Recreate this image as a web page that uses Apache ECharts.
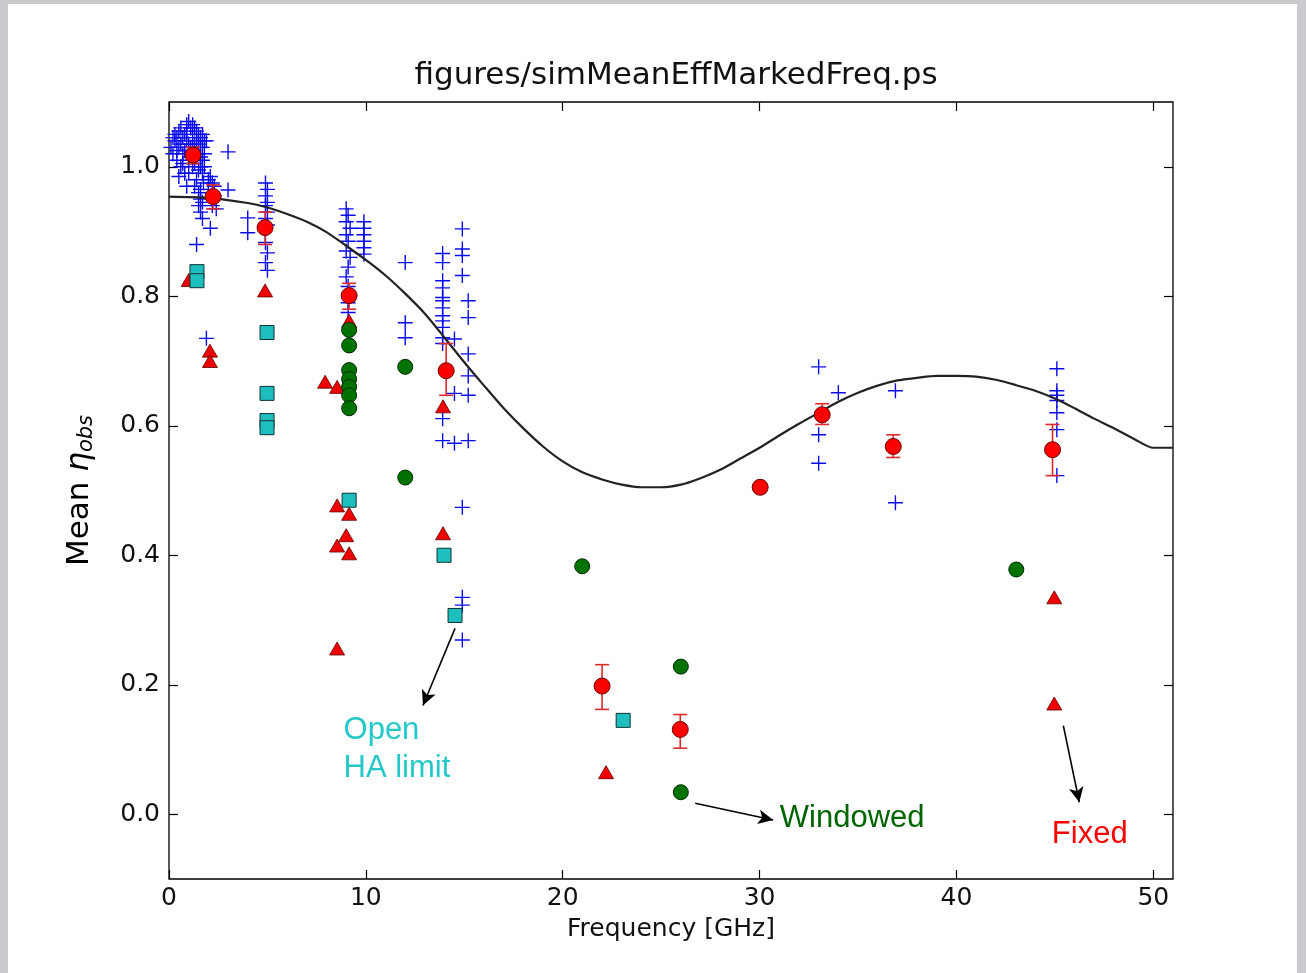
<!DOCTYPE html>
<html>
<head>
<meta charset="utf-8">
<script src="https://cdn.jsdelivr.net/npm/echarts@6/dist/echarts.min.js"></script>
<style>
html,body{margin:0;padding:0;background:#c9cbce;}
#frame{position:absolute;left:8px;top:4px;width:1289px;height:969px;background:#fff;}
#chart{position:absolute;left:0;top:0;width:1306px;height:973px;}
</style>
</head>
<body>
<div id="frame"></div>
<div id="chart"></div>
<script>
// ---- data ----
const xTicks = [0, 10, 20, 30, 40, 50];
const yTicks = [0.0, 0.2, 0.4, 0.6, 0.8, 1.0];

const curveX = [0,2,4,5,6,7,8,9,10,11,12,13,14,15,16,17,18,19,20,21,22,23,24,25,26,27,28,29,30,31,32,33,34,35,36,37,38,39,40,41,42,43,44,45,46,47,48,49,50,51];
const curveY = [0.954,0.952,0.944,0.937,0.927,0.915,0.899,0.878,0.856,0.832,0.804,0.773,0.736,0.698,0.662,0.627,0.596,0.568,0.545,0.528,0.517,0.509,0.505,0.505,0.509,0.519,0.532,0.549,0.566,0.585,0.603,0.620,0.637,0.651,0.662,0.670,0.674,0.677,0.677,0.676,0.671,0.663,0.654,0.642,0.627,0.611,0.596,0.580,0.566,0.566];

// individual measurements (blue +)
const bluePlus = [
 [0.2,1.02],[0.3,1.04],[0.3,1.05],[0.4,1.01],[0.5,1.03],[0.5,0.985],[0.6,1.00],[0.6,1.06],[0.7,1.02],[0.8,1.05],
 [0.8,0.99],[0.9,1.04],[0.9,0.97],[1.0,1.07],[1.0,1.01],[1.1,1.03],[1.1,1.06],[1.2,1.00],[1.3,1.06],[1.3,0.97],
 [1.4,1.04],[1.4,0.98],[1.5,1.05],[1.5,1.02],[1.6,1.03],[1.6,1.00],[1.7,1.05],[1.7,0.99],[1.8,1.02],[1.9,1.04],
 [0.1,1.03],[0.2,1.045],[0.4,1.025],[0.5,1.055],[0.6,1.035],[0.7,1.045],[0.7,1.005],[0.8,1.025],[0.9,1.055],[1.0,1.035],
 [1.0,0.99],[1.1,1.015],[1.2,1.045],[1.2,1.025],[1.3,1.035],[1.3,1.005],[1.4,1.055],[1.4,1.015],[1.5,1.035],[1.5,0.995],
 [1.6,1.045],[1.6,1.015],[1.7,1.03],[1.7,1.01],[1.8,1.04],[1.8,1.00],[1.2,1.065],[0.9,1.065],[0.4,1.045],[1.75,0.975],
 [1.5,0.96],[1.6,0.95],[1.5,0.94],[1.6,0.93],[1.7,0.92],[1.4,0.88],[1.9,0.735],[1.6,0.965],[1.7,0.945],
 [2.0,0.98],[2.2,0.975],[2.3,0.97],[2.0,0.96],[2.2,0.94],[2.4,0.935],[2.1,0.905],[2.1,0.985],[2.3,0.955],
 [3.0,1.023],[3.0,0.964],
 [4.0,0.921],[4.0,0.898],
 [4.9,0.975],[5.0,0.965],[4.9,0.955],[5.0,0.945],[4.9,0.94],[5.0,0.93],[4.9,0.92],[5.0,0.91],[4.9,0.883],[5.0,0.867],[4.9,0.852],[5.0,0.84],
 [9.0,0.935],[9.1,0.925],[9.0,0.915],[9.2,0.905],[9.0,0.895],[9.1,0.885],[9.0,0.87],[9.2,0.86],[9.1,0.845],[9.0,0.83],[9.1,0.815],[9.1,0.79],[9.1,0.775],
 [9.9,0.915],[9.9,0.905],[9.9,0.895],[9.9,0.885],[9.9,0.875],[9.9,0.865],
 [12.0,0.852],[12.0,0.759],[12.0,0.736],
 [13.9,0.866],[13.9,0.852],[13.9,0.824],[13.9,0.813],[13.9,0.798],[13.9,0.793],[13.9,0.782],[13.9,0.770],[13.9,0.762],[13.9,0.752],[13.9,0.736],[13.9,0.727],[13.9,0.611],[13.9,0.577],
 [14.5,0.734],[14.5,0.650],[14.5,0.573],
 [14.9,0.904],[14.9,0.873],[14.9,0.863],[14.9,0.832],
 [15.2,0.793],[15.2,0.767],[15.2,0.711],[15.2,0.677],[15.2,0.647],[15.2,0.577],
 [14.9,0.474],[14.9,0.335],[14.9,0.323],[14.9,0.269],
 [33.0,0.691],[34.0,0.651],[33.0,0.586],[33.0,0.542],
 [36.9,0.654],[36.9,0.481],
 [45.1,0.688],[45.1,0.654],[45.1,0.647],[45.1,0.639],[45.1,0.620],[45.1,0.594],[45.1,0.523]
];

// mean values with error bars (red circles): x, y, low, high
const meanX  = [1.22, 2.24, 4.88, 9.15, 14.08, 22.0, 25.97, 30.03, 33.18, 36.79, 44.88];
const meanY  = [1.018,0.954,0.906,0.801,0.685, 0.198,0.131, 0.505, 0.617, 0.568, 0.563];
const meanLo = [1.005,0.935,0.880,0.780,0.647, 0.162,0.102, 0.500, 0.602, 0.551, 0.523];
const meanHi = [1.030,0.972,0.930,0.820,0.727, 0.231,0.154, 0.510, 0.634, 0.586, 0.602];

// fixed (red triangles)
const fixedPts = [[1.0,0.825],[2.08,0.716],[2.08,0.700],[4.88,0.809],[9.15,0.762],[7.93,0.668],[8.54,0.660],[13.92,0.630],
 [8.54,0.477],[9.15,0.464],[9.0,0.431],[8.54,0.415],[9.15,0.403],[8.54,0.256],[13.92,0.434],[22.2,0.065],[44.97,0.335],[44.97,0.171]];

// windowed (green circles)
const windowedPts = [[9.15,0.748],[9.15,0.724],[9.15,0.686],[9.15,0.672],[9.15,0.660],[9.15,0.647],[9.15,0.627],
 [12.0,0.691],[12.0,0.520],[20.99,0.383],[26.0,0.228],[26.0,0.034],[43.04,0.378]];

// open HA limit (cyan squares)
const openPts = [[1.42,0.838],[1.42,0.824],[4.98,0.744],[4.98,0.650],[4.98,0.608],[4.98,0.597],[9.15,0.485],[13.97,0.400],[14.53,0.307],[23.07,0.145]];

// annotations
const annoText = ['Open\nHA limit', 'Windowed', 'Fixed'];
const annoPos  = [[8.84,0.100],[31.0,-0.006],[44.82,-0.031]];
const annoColor = ['#25c8c8', '#006400', '#ff0000'];
const arrowFrom = [[14.53,0.287],[26.73,0.017],[45.43,0.137]];
const arrowTo   = [[12.9,0.168],[30.69,-0.009],[46.24,0.0185]];

// ---- build chart ----
const chart = echarts.init(document.getElementById('chart'), null, {renderer:'canvas'});
const curve = curveX.map((x,i)=>[x, curveY[i]]);
const means = meanX.map((x,i)=>[x, meanY[i]]);
const errs = meanX.map((x,i)=>[x, meanLo[i], meanHi[i]]);
const FONT = 'DejaVu Sans';

const plusPath = 'path://M0,-1L0,1M-1,0L1,0';

function ticks(vals){
  return {show:true, inside:true, length:9, customValues:vals, lineStyle:{color:'#000', width:1.2}};
}
function axisCommon(extra){
  return Object.assign({
    type:'value',
    splitLine:{show:false},
    axisLine:{show:false, onZero:false},
  }, extra);
}

const option = {
  animation:false,
  backgroundColor:'transparent',
  title:{
    text:'figures/simMeanEffMarkedFreq.ps',
    left:671, top:55, textAlign:'center',
    textStyle:{fontFamily:FONT, fontSize:31, fontWeight:'normal', color:'#111'}
  },
  grid:{left:169, top:102, right:133, bottom:94, show:true, borderColor:'#000', borderWidth:1.3, backgroundColor:'#fff'},
  xAxis:[
    axisCommon({min:0, max:51, position:'bottom',
      axisTick:ticks(xTicks),
      axisLabel:{customValues:xTicks, fontFamily:FONT, fontSize:25, color:'#111', margin:7},
      name:'Frequency [GHz]', nameLocation:'middle', nameGap:38,
      nameTextStyle:{fontFamily:FONT, fontSize:25, color:'#111'}}),
    axisCommon({min:0, max:51, position:'top',
      axisTick:ticks(xTicks),
      axisLabel:{show:false}})
  ],
  yAxis:[
    axisCommon({min:-0.1, max:1.1, position:'left',
      axisTick:ticks(yTicks),
      axisLabel:{customValues:yTicks, formatter:v=>v.toFixed(1), fontFamily:FONT, fontSize:25, color:'#111', margin:9},
      name:'{a|Mean }{b|η}{c|obs}', nameLocation:'middle', nameRotate:90, nameGap:72,
      nameTextStyle:{
        rich:{
          a:{fontFamily:FONT, fontSize:31, color:'#000'},
          b:{fontFamily:FONT, fontSize:31, fontStyle:'italic', color:'#000'},
          c:{fontFamily:FONT, fontSize:21, fontStyle:'italic', color:'#000', padding:[13,0,0,0]}
        }
      }}),
    axisCommon({min:-0.1, max:1.1, position:'right',
      axisTick:ticks(yTicks),
      axisLabel:{show:false}})
  ],
  series:[
    {
      name:'single', type:'scatter', data:bluePlus, symbol:plusPath, symbolSize:15, z:2,
      itemStyle:{color:'rgba(0,0,0,0)', borderColor:'#0a0aee', borderWidth:1.4, opacity:1}
    },
    {
      name:'model', type:'line', data:curve, showSymbol:false, symbol:'none', z:3, smooth:0.25,
      lineStyle:{color:'#222', width:2.2}
    },
    {
      name:'err', type:'custom', z:4, data:errs,
      renderItem:function(params, api){
        const x = api.value(0);
        const p1 = api.coord([x, api.value(1)]);
        const p2 = api.coord([x, api.value(2)]);
        const w = 7;
        const st = {stroke:'#dd2a2a', lineWidth:1.6};
        return {type:'group', children:[
          {type:'line', shape:{x1:p1[0], y1:p1[1], x2:p2[0], y2:p2[1]}, style:st},
          {type:'line', shape:{x1:p1[0]-w, y1:p1[1], x2:p1[0]+w, y2:p1[1]}, style:st},
          {type:'line', shape:{x1:p2[0]-w, y1:p2[1], x2:p2[0]+w, y2:p2[1]}, style:st}
        ]};
      }
    },
    {
      name:'fixed', type:'scatter', data:fixedPts, symbol:'triangle', symbolSize:[15,13], z:5,
      itemStyle:{color:'#ee0000', borderColor:'#600000', borderWidth:0.8, opacity:1}
    },
    {
      name:'windowed', type:'scatter', data:windowedPts, symbol:'circle', symbolSize:15, z:5,
      itemStyle:{color:'#007200', borderColor:'#002a00', borderWidth:1, opacity:1}
    },
    {
      name:'open', type:'scatter', data:openPts, symbol:'rect', symbolSize:14, z:5,
      itemStyle:{color:'#1ebebe', borderColor:'#0d3333', borderWidth:1, opacity:1}
    },
    {
      name:'mean', type:'scatter', data:means, symbol:'circle', symbolSize:16, z:6,
      itemStyle:{color:'#ff0000', borderColor:'#680000', borderWidth:1, opacity:1}
    },
    {
      name:'anno', type:'scatter', z:7, symbolSize:1, silent:true,
      itemStyle:{color:'rgba(0,0,0,0)', opacity:1},
      data:annoPos.map((p,i)=>({value:p, name:annoText[i],
        label:{show:true, position:'right', distance:0, align:'left', formatter:annoText[i],
          fontFamily:'Liberation Sans', fontSize:31, lineHeight:38, color:annoColor[i], opacity:1}})),
      markLine:{
        silent:true, symbol:['none','arrow'], symbolSize:[11,15],
        lineStyle:{color:'#000', width:1.6, type:'solid', opacity:1},
        label:{show:false},
        data:arrowFrom.map((p,i)=>[{coord:p},{coord:arrowTo[i]}])
      }
    }
  ]
};
chart.setOption(option);
</script>
</body>
</html>
